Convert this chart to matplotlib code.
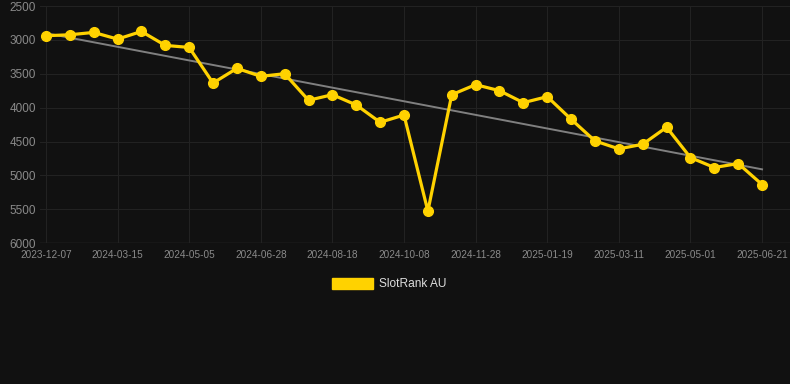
import numpy as np
import matplotlib.pyplot as plt
from matplotlib.patches import Patch

plt.rcParams['font.family'] = ['Liberation Sans', 'DejaVu Sans']

# ranks, one point per sample
ranks = [2937, 2923, 2888, 2987, 2874, 3080, 3110, 3636, 3419, 3537,
         3498, 3891, 3808, 3960, 4216, 4108, 5528, 3808, 3660, 3749,
         3926, 3837, 4171, 4491, 4609, 4540, 4289, 4737, 4884, 4825, 5135]
tick_labels = ["2023-12-07", "2024-03-15", "2024-05-05", "2024-06-28",
               "2024-08-18", "2024-10-08", "2024-11-28", "2025-01-19",
               "2025-03-11", "2025-05-01", "2025-06-21"]
y_ticks = [2500, 3000, 3500, 4000, 4500, 5000, 5500, 6000]

bg = "#111111"
gold = "#FFD200"

x = np.arange(len(ranks))
slope, icept = np.polyfit(x, ranks, 1)

fig = plt.figure(figsize=(7.9, 3.84), dpi=100, facecolor=bg)
ax = fig.add_axes([0.0506, 0.367, 0.9494, 0.617])
ax.set_facecolor(bg)

ax.plot(x, slope * x + icept, color="#808080", lw=1.4, zorder=2)
ax.plot(x, ranks, color=gold, lw=2.3, marker="o", ms=7, zorder=3)

ax.set_ylim(6000, 2500)
ax.set_xlim(-0.25, 31.17)
ax.set_yticks(y_ticks)
ax.set_xticks(x[::3])
ax.set_xticklabels(tick_labels)
ax.tick_params(axis="y", length=0, pad=3, labelsize=8.5, labelcolor="#8a8a8a")
ax.tick_params(axis="x", length=0, pad=5, labelsize=7.2, labelcolor="#8a8a8a")
ax.grid(True, color="#222222", lw=0.8)
for s in ax.spines.values():
    s.set_visible(False)
ax.axhline(6000, color="#333333", lw=1, zorder=1)

fig.legend(handles=[Patch(color=gold, label="SlotRank AU")],
           loc="center", bbox_to_anchor=(0.493, 0.26), frameon=False,
           fontsize=8.6, labelcolor="#dddddd", handlelength=3.4,
           handleheight=1.0, handletextpad=0.5)

fig.savefig("out.png", dpi=100, facecolor=bg)
